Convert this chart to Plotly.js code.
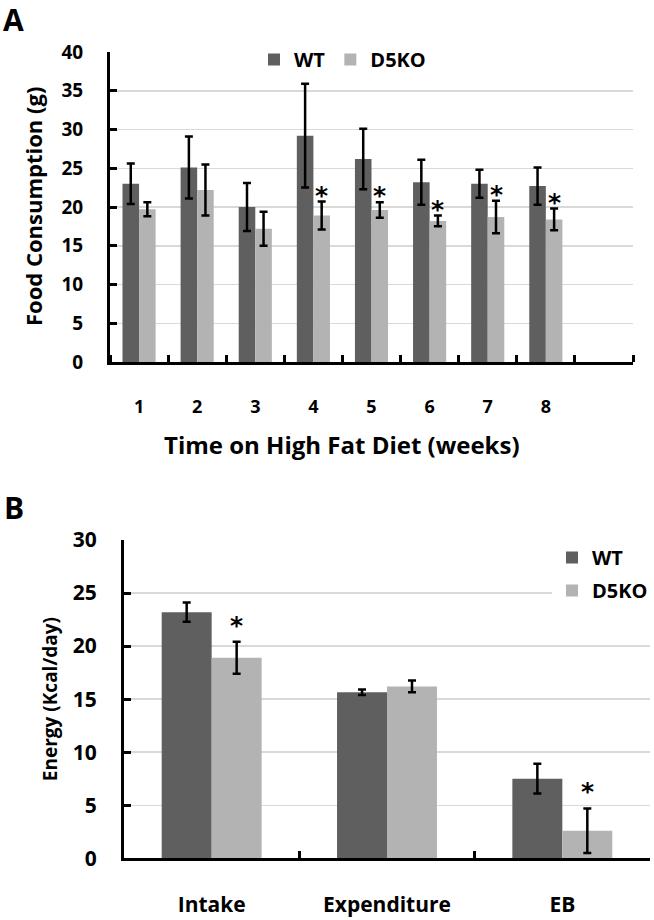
<!DOCTYPE html>
<html>
<head>
<meta charset="utf-8">
<script src="https://cdn.plot.ly/plotly-3.0.1.min.js"></script>
<style>html,body{margin:0;padding:0;background:#fff;}#chart{width:654px;height:920px;}</style>
</head>
<body>
<div id="chart"></div>
<script>
// ---------- Data: panel A (weekly food consumption, g) ----------
const weeks = [1, 2, 3, 4, 5, 6, 7, 8];
const weekLabels = ['1', '2', '3', '4', '5', '6', '7', '8'];
const wtFood = [23.0, 25.1, 20.0, 29.2, 26.2, 23.2, 23.0, 22.7];
const wtFoodErr = [2.6, 4.0, 3.1, 6.7, 3.9, 2.9, 1.8, 2.4];
const koFood = [19.7, 22.2, 17.2, 18.9, 19.6, 18.2, 18.7, 18.4];
const koFoodErr = [0.9, 3.3, 2.2, 1.8, 1.0, 0.7, 2.1, 1.4];
const koFoodSig = [false, false, false, true, true, true, true, true];

// ---------- Data: panel B (energy, Kcal/day) ----------
const energyCats = ['Intake', 'Expenditure', 'EB'];
const wtEnergy = [23.2, 15.65, 7.5];
const wtEnergyErr = [0.9, 0.25, 1.4];
const koEnergy = [18.9, 16.2, 2.6];
const koEnergyErr = [1.5, 0.55, 2.1];
const koEnergySig = [true, false, true];

const seriesNames = ['WT', 'D5KO'];

// ---------- Style ----------
const FONT = '"Open Sans", "Noto Sans", sans-serif';
const STAR_FONT = '"DejaVu Sans", sans-serif';
const WT_COLOR = '#5f5f5f';
const KO_COLOR = '#b3b3b3';
const GRID = '#d9d9d9';
const BARGAP = 0.43;
const W = 654, H = 920;
const errStyle = (arr) => ({type: 'data', array: arr, visible: true, color: '#000', thickness: 2.5, width: 4});

const traces = [
  {type: 'bar', x: weeks, y: wtFood, name: seriesNames[0], marker: {color: WT_COLOR},
   error_y: errStyle(wtFoodErr), xaxis: 'x', yaxis: 'y', legend: 'legend', legendgroup: 'a1'},
  {type: 'bar', x: weeks, y: koFood, name: seriesNames[1], marker: {color: KO_COLOR},
   error_y: errStyle(koFoodErr), xaxis: 'x', yaxis: 'y', legend: 'legend', legendgroup: 'a2'},
  {type: 'bar', x: energyCats, y: wtEnergy, name: seriesNames[0], marker: {color: WT_COLOR},
   error_y: errStyle(wtEnergyErr), xaxis: 'x2', yaxis: 'y2', legend: 'legend2', legendgroup: 'b1'},
  {type: 'bar', x: energyCats, y: koEnergy, name: seriesNames[1], marker: {color: KO_COLOR},
   error_y: errStyle(koEnergyErr), xaxis: 'x2', yaxis: 'y2', legend: 'legend2', legendgroup: 'b2'}
];

const koOffset = (1 - BARGAP) / 4; // centre of 2nd bar in a group, in category units

const annotations = [];
// significance stars
weeks.forEach((w, i) => {
  if (koFoodSig[i]) annotations.push({xref: 'x', yref: 'y', x: w + koOffset, y: koFood[i] + koFoodErr[i],
    text: '*', showarrow: false, yanchor: 'bottom', yshift: -10, font: {family: STAR_FONT, size: 25, weight: 'bold', color: '#000'}});
});
energyCats.forEach((c, i) => {
  if (koEnergySig[i]) annotations.push({xref: 'x2', yref: 'y2', x: i + koOffset, y: koEnergy[i] + koEnergyErr[i],
    text: '*', showarrow: false, yanchor: 'bottom', yshift: 0, font: {family: STAR_FONT, size: 25, weight: 'bold', color: '#000'}});
});
// panel letters
annotations.push({xref: 'paper', yref: 'paper', x: 1 / W, y: 1 - 19 / H, xanchor: 'left', yanchor: 'middle',
  text: 'A', showarrow: false, font: {family: FONT, size: 30, weight: 'bold', color: '#000'}});
annotations.push({xref: 'paper', yref: 'paper', x: 2 / W, y: 1 - 507 / H, xanchor: 'left', yanchor: 'middle',
  text: 'B', showarrow: false, font: {family: FONT, size: 30, weight: 'bold', color: '#000'}});
// axis titles
annotations.push({xref: 'x', yref: 'paper', x: (weeks[0] + weeks[weeks.length - 1]) / 2, y: 1 - 444 / H,
  xanchor: 'center', yanchor: 'middle', text: 'Time on High Fat Diet (weeks)', showarrow: false,
  font: {family: FONT, size: 24, weight: 'bold', color: '#000'}});
annotations.push({xref: 'paper', yref: 'y domain', x: 33 / W, y: 0.5, xanchor: 'center', yanchor: 'middle',
  textangle: -90, text: 'Food Consumption (g)', showarrow: false,
  font: {family: FONT, size: 22, weight: 'bold', color: '#000'}});
annotations.push({xref: 'paper', yref: 'y2 domain', x: 50 / W, y: 0.5, xanchor: 'center', yanchor: 'middle',
  textangle: -90, text: 'Energy (Kcal/day)', showarrow: false,
  font: {family: FONT, size: 19, weight: 'bold', color: '#000'}});

const yAxisCommon = {
  showline: true, linecolor: '#000', linewidth: 3, ticks: 'inside', ticklen: 7, tickwidth: 3, tickcolor: '#000',
  showgrid: true, gridcolor: GRID, gridwidth: 1.5, zeroline: false, fixedrange: true
};

const layout = {
  width: W, height: H,
  margin: {l: 0, r: 0, t: 0, b: 0},
  paper_bgcolor: '#fff', plot_bgcolor: '#fff',
  font: {family: FONT, color: '#000'},
  barmode: 'group', bargap: BARGAP, bargroupgap: 0,
  showlegend: true,
  xaxis: {
    domain: [110 / W, 633 / W], anchor: 'y', type: 'linear', range: [0.5, 9.5],
    tickmode: 'array', tickvals: weeks, ticktext: weekLabels, ticks: '',
    showline: true, linecolor: '#000', linewidth: 3, showgrid: false, zeroline: false,
    tickfont: {family: FONT, size: 18, weight: 'bold'}, ticklabelstandoff: 26,
    minor: {tickmode: 'linear', tick0: 0.5, dtick: 1, ticks: 'inside', ticklen: 7, tickwidth: 3, tickcolor: '#000', showgrid: false}
  },
  yaxis: Object.assign({}, yAxisCommon, {
    domain: [(H - 362) / H, (H - 52) / H], anchor: 'x', range: [0, 40], dtick: 5,
    tickfont: {family: FONT, size: 19, weight: 'bold'}, ticklabelstandoff: 20
  }),
  xaxis2: {
    domain: [124 / W, 650 / W], anchor: 'y2', type: 'category', categoryarray: energyCats,
    ticks: 'inside', tickson: 'boundaries', ticklen: 7, tickwidth: 3, tickcolor: '#000',
    showline: true, linecolor: '#000', linewidth: 3, showgrid: false, zeroline: false,
    tickfont: {family: FONT, size: 21, weight: 'bold'}, ticklabelstandoff: 25
  },
  yaxis2: Object.assign({}, yAxisCommon, {
    domain: [(H - 858.3) / H, (H - 540) / H], anchor: 'x2', range: [0, 30], dtick: 5,
    tickfont: {family: FONT, size: 21, weight: 'bold'}, ticklabelstandoff: 20
  }),
  legend: {
    orientation: 'h', x: 254 / W, y: 1 - 59.5 / H, xanchor: 'left', yanchor: 'middle',
    bgcolor: '#fff', borderwidth: 0, itemclick: false, itemdoubleclick: false,
    font: {family: FONT, size: 20, weight: 'bold', color: '#000'}, traceorder: 'normal'
  },
  legend2: {
    orientation: 'v', x: 552 / W, y: 1 - 569 / H, xanchor: 'left', yanchor: 'middle',
    bgcolor: '#fff', borderwidth: 0, tracegroupgap: 4, itemclick: false, itemdoubleclick: false,
    title: {text: ' ', font: {size: 8}},
    font: {family: FONT, size: 20, weight: 'bold', color: '#000'}, traceorder: 'grouped'
  },
  annotations: annotations
};

Plotly.newPlot('chart', traces, layout, {displayModeBar: false, staticPlot: true});
</script>
</body>
</html>
